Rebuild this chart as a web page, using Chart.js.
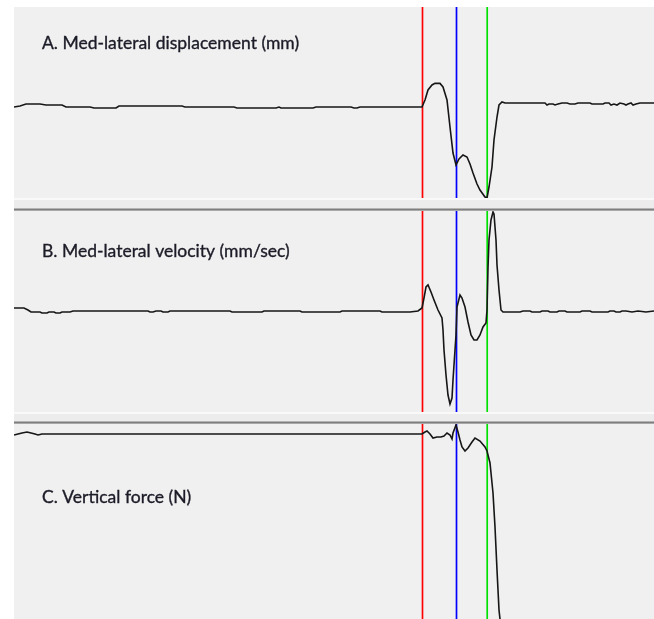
<!DOCTYPE html>
<html>
<head>
<meta charset="utf-8">
<script src="https://cdn.jsdelivr.net/npm/chart.js"></script>
<style>
body{margin:0;background:#fff;width:654px;height:619px;overflow:hidden;position:relative}
#bg{position:absolute;left:14px;top:7px;width:640px;height:612px;background:#f0f0f0}
canvas{position:absolute;left:14px}
.sep{position:absolute;left:14px;width:640px;
  background:linear-gradient(to bottom,#f9f9f9 0,#f9f9f9 2px,#ececec 2px,#ececec calc(100% - 3px),#b4b4b4 calc(100% - 3px),#b4b4b4 calc(100% - 2px),#7e7e7e calc(100% - 2px),#7e7e7e calc(100% - 1px),#a8a8a8 calc(100% - 1px))}
</style>
</head>
<body>
<div id="bg"></div>
<canvas id="dispChart" width="640" height="191" style="top:7px"></canvas>
<div class="sep" style="top:198px;height:13px"></div>
<canvas id="velChart" width="640" height="201" style="top:211px"></canvas>
<div class="sep" style="top:412px;height:12px"></div>
<canvas id="forceChart" width="640" height="195" style="top:424px"></canvas>
<script>
// time in samples, marker events (red, blue, green)
var eventTimes = [408.5, 442.5, 473.2];

// A. med-lateral displacement (mm)
var dispT = [0,6,12,26,32,48,52,76,80,102,105,168,171,220,223,262,265,267,299,302,337,340,343,346,408,
  411,414,418,421,426,429,433,436,439,442,445,449,453,456,459,463,466,471,473,475,478,480,483,485,488,491,
  531,533,535,539,541,544,548,553,556,561,564,576,578,589,591,595,597,600,603,606,610,612,614,617,619,622,626,640];
var dispV = [0,0.05,0.15,0.15,0.1,0.1,0,0,-0.05,-0.05,0.05,0.05,0,0,-0.05,-0.05,0,-0.05,-0.05,0,0,-0.05,-0.05,0,0,
  0.35,0.85,1.1,1.18,1.18,1.0,0.35,-1.0,-2.3,-2.9,-2.6,-2.4,-2.5,-2.85,-3.3,-3.85,-4.15,-4.5,-4.55,-4.0,-3.0,-1.65,-0.5,0.1,0.25,0.2,
  0.2,0.1,0.15,0.15,0.1,0.15,0.2,0.2,0.15,0.15,0.2,0.2,0.15,0.15,0.2,0.2,0.1,0.15,0.1,0.2,0.15,0.1,0.15,0.2,0.1,0.15,0.2,0.2];

// B. med-lateral velocity (mm/sec)
var velT = [0,10,14,17,26,28,33,35,40,42,46,48,56,59,134,136,139,142,147,149,154,156,216,218,248,250,286,288,326,328,366,368,396,404,
  408,410,412,414,417,420,424,428,429,430,432,434,436,438,439,441,442,443,446,448,451,454,457,460,463,466,469,472,473,
  474,475,477,479,480,482,483,485,487,489,506,509,516,518,526,528,534,536,543,545,551,553,566,568,576,578,594,596,600,602,606,608,612,618,624,632,640];
var velV = [1.5,1.5,0.5,-0.5,-0.5,-1,-1,-0.5,-0.5,-1,-1,-0.5,-0.5,0,0,-0.5,-0.5,0,0,-0.5,-0.5,0,0,-0.5,-0.5,0,0,-0.5,-0.5,0,0,-0.5,-0.5,0,
  1.5,6.5,12,13,9.5,5.5,0.5,-3.5,-9.5,-19.5,-32,-42,-46.5,-43.5,-34.5,-19.5,-12,2,8,6.5,2,-5.5,-12,-14.5,-14.5,-12,-8,-6,0.5,
  21.5,35.5,45.5,49.5,48.5,35.5,23,10.5,0.5,-0.5,-0.5,0,0,-0.5,-0.5,0,0,-0.5,-0.5,0,0,-0.5,-0.5,0,0,-0.5,-0.5,0,0,-0.5,-0.5,0,0,-0.5,0,-0.5,0];

// C. vertical force (N)
var forceT = [0,4,8,13,17,21,24,28,408,411,413,416,419,423,427,430,433,436,438,439,442,444,446,448,451,454,458,461,466,471,473,476,479,481,483,485,486,488];
var forceV = [-4,0,4,8,4,0,-4,0,0,8,12,0,-16,-12,-12,-8,4,-4,-20,4,36,8,-24,-52,-68,-56,-32,-16,-28,-52,-68,-116,-236,-372,-544,-704,-740,-824];

var markerColors = ['#ff0000', '#0000ff', '#00e000'];

function overlay(label, labelY){
  return {
    id: 'overlay',
    beforeDatasetsDraw: function(chart){
      var c = chart.ctx, a = chart.chartArea, xs = chart.scales.x;
      c.save();
      c.lineWidth = 1.7;
      eventTimes.forEach(function(t, i){
        var px = xs.getPixelForValue(t);
        c.strokeStyle = markerColors[i];
        c.beginPath();
        c.moveTo(px, a.top);
        c.lineTo(px, a.bottom);
        c.stroke();
      });
      c.restore();
    },
    afterDraw: function(chart){
      var c = chart.ctx;
      c.save();
      c.font = '17.5px Lato';
      c.fillStyle = '#1c1c28';
      c.strokeStyle = '#1c1c28';
      c.lineWidth = 0.35;
      c.fillText(label, 28, labelY);
      c.strokeText(label, 28, labelY);
      c.restore();
    }
  };
}

function panel(id, t, v, yMin, yMax, label, labelY){
  var ctx = document.getElementById(id).getContext('2d');
  var pts = t.map(function(x, i){ return {x: x, y: v[i]}; });
  return new Chart(ctx, {
    type: 'line',
    data: {
      datasets: [{
        data: pts,
        borderColor: '#161616',
        borderWidth: 1.6,
        pointRadius: 0,
        tension: 0,
        fill: false
      }]
    },
    options: {
      responsive: false,
      animation: false,
      events: [],
      layout: {padding: 0},
      scales: {
        x: {type: 'linear', min: 0, max: 640, display: false},
        y: {min: yMin, max: yMax, display: false}
      },
      plugins: {legend: {display: false}, tooltip: {enabled: false}}
    },
    plugins: [overlay(label, labelY)]
  });
}

panel('dispChart', dispT, dispV, -4.55, 5, 'A. Med-lateral displacement (mm)', 42);
panel('velChart', velT, velV, -50.5, 50, 'B. Med-lateral velocity (mm/sec)', 46);
panel('forceChart', forceT, forceV, -740, 40, 'C. Vertical force (N)', 79);
</script>
</body>
</html>
